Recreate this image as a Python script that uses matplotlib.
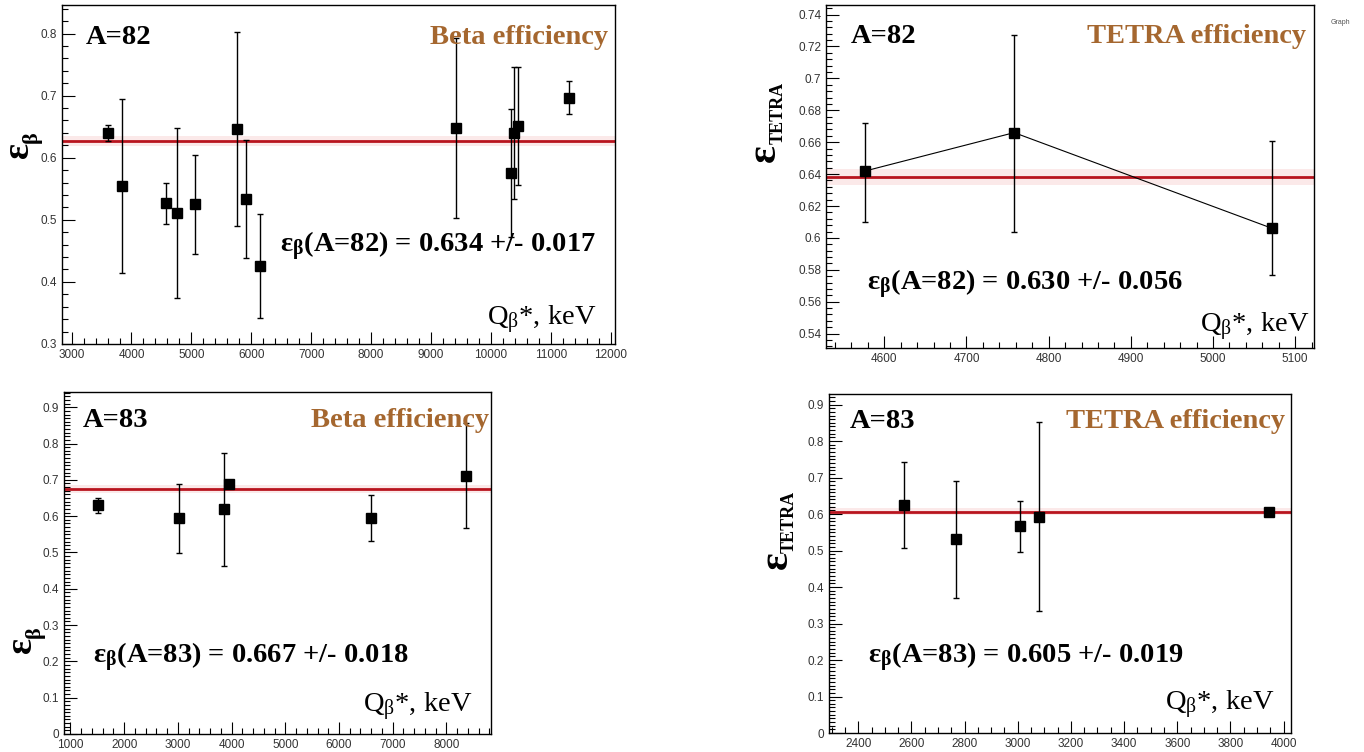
import numpy as np
import matplotlib
matplotlib.use('Agg')
import matplotlib.pyplot as plt
from matplotlib.ticker import MultipleLocator, AutoMinorLocator

plt.rcParams['mathtext.fontset'] = 'custom'
plt.rcParams['mathtext.rm'] = 'Liberation Serif'
plt.rcParams['mathtext.it'] = 'Liberation Serif'
plt.rcParams['mathtext.bf'] = 'Liberation Serif:bold'

# ---- data ----
# A=82, beta efficiency
q82_beta = [3600, 3838, 4578, 4756, 5066, 5766, 5904, 6142, 9409, 10340, 10386, 10459, 11310]
eff82_beta = [0.640, 0.555, 0.527, 0.511, 0.525, 0.646, 0.533, 0.426, 0.648, 0.575, 0.640, 0.651, 0.697]
err82_beta = [0.013, 0.140, 0.033, 0.137, 0.080, 0.156, 0.095, 0.084, 0.145, 0.103, 0.106, 0.095, 0.027]
fit82_beta = 0.627

# A=82, TETRA efficiency
q82_tetra = [4577, 4758, 5072]
eff82_tetra = [0.642, 0.666, 0.606]
errlo82_tetra = [0.032, 0.062, 0.029]
errhi82_tetra = [0.030, 0.061, 0.055]
fit82_tetra = 0.638

# A=83, beta efficiency
q83_beta = [1516, 3025, 3857, 3950, 6602, 8366]
eff83_beta = [0.630, 0.594, 0.619, 0.688, 0.594, 0.712]
err83_beta = [0.020, 0.095, 0.155, 0.010, 0.063, 0.144]
fit83_beta = 0.675

# A=83, TETRA efficiency
q83_tetra = [2574, 2766, 3008, 3079, 3944]
eff83_tetra = [0.625, 0.531, 0.567, 0.592, 0.607]
err83_tetra = [0.118, 0.160, 0.070, 0.259, 0.010]
fit83_tetra = 0.607

BROWN = '#a5672f'
RED = '#b8141e'
BAND = '#fbe9e9'
W, H = 1364.0, 752.0
FS = 20.5


def px_axes(fig, l, r, t, b):
    return fig.add_axes([l / W, 1 - b / H, (r - l) / W, (b - t) / H])


def style(ax, xlim, ylim, xmaj, xminor, ymaj, yminor):
    ax.set_xlim(*xlim)
    ax.set_ylim(*ylim)
    ax.xaxis.set_major_locator(MultipleLocator(xmaj))
    ax.xaxis.set_minor_locator(AutoMinorLocator(xminor))
    ax.yaxis.set_major_locator(MultipleLocator(ymaj))
    ax.yaxis.set_minor_locator(AutoMinorLocator(yminor))
    ax.yaxis.set_major_formatter(plt.FuncFormatter(lambda v, p: '%g' % round(v, 4)))
    ax.tick_params(which='both', direction='in', top=False, right=False,
                   labelsize=8.5, labelcolor='#333333', width=0.8)
    ax.tick_params(which='major', length=9)
    ax.tick_params(which='minor', length=4.5)
    for lab in ax.get_xticklabels() + ax.get_yticklabels():
        lab.set_family('Liberation Sans')
    for s in ax.spines.values():
        s.set_linewidth(1.0)


def texts(ax, a_lab, eff_lab, eq, pos):
    ax.text(pos[0], pos[1], a_lab, transform=ax.transAxes, ha='left', va='center',
            family='Liberation Serif', weight='bold', fontsize=FS)
    ax.text(pos[2], pos[1], eff_lab, transform=ax.transAxes, ha='right', va='center',
            family='Liberation Serif', weight='bold', fontsize=FS, color=BROWN)
    ax.text(pos[3], pos[4], eq, transform=ax.transAxes, ha='left', va='center',
            family='Liberation Serif', weight='bold', fontsize=FS)
    ax.text(pos[5], pos[6], r'Q$_\mathrm{β}$*, keV', transform=ax.transAxes,
            ha='right', va='center', family='Liberation Serif', fontsize=FS)


def ylabel(fig, sub, eps_xy, sub_xy, eps_fs, sub_fs):
    kw = dict(rotation=90, rotation_mode='anchor', ha='left', va='baseline',
              family='Liberation Serif', weight='bold')
    fig.text(eps_xy[0] / W, 1 - eps_xy[1] / H, 'ε', fontsize=eps_fs, **kw)
    fig.text(sub_xy[0] / W, 1 - sub_xy[1] / H, sub, fontsize=sub_fs, **kw)


fig = plt.figure(figsize=(13.64, 7.52), dpi=100)

# top left
ax1 = px_axes(fig, 62, 615, 5, 344)
ax1.axhspan(fit82_beta - 0.008, fit82_beta + 0.008, color=BAND, lw=0)
ax1.axhline(fit82_beta, color=RED, lw=2)
ax1.errorbar(q82_beta, eff82_beta, yerr=err82_beta, fmt='s', color='black',
             ms=7, elinewidth=1, capsize=2.5, capthick=1)
style(ax1, (2840, 12070), (0.3, 0.846), 1000, 5, 0.1, 5)
texts(ax1, 'A=82', 'Beta efficiency', r'ε$_\mathbf{β}$(A=82) = 0.634 +/- 0.017',
      (0.043, 0.905, 0.987, 0.395, 0.29, 0.967, 0.072))

# top right
ax2 = px_axes(fig, 826, 1314, 5, 348)
ax2.axhspan(fit82_tetra - 0.005, fit82_tetra + 0.005, color=BAND, lw=0)
ax2.axhline(fit82_tetra, color=RED, lw=2)
ax2.errorbar(q82_tetra, eff82_tetra, yerr=[errlo82_tetra, errhi82_tetra], fmt='-s',
             color='black', lw=0.8, ms=7, elinewidth=1, capsize=2.5, capthick=1)
style(ax2, (4529, 5123), (0.531, 0.746), 100, 5, 0.02, 5)
texts(ax2, 'A=82', 'TETRA efficiency', r'ε$_\mathbf{β}$(A=82) = 0.630 +/- 0.056',
      (0.05, 0.907, 0.984, 0.084, 0.187, 0.99, 0.062))

# bottom left
ax3 = px_axes(fig, 64, 491, 392, 734)
ax3.axhspan(fit83_beta - 0.012, fit83_beta + 0.012, color=BAND, lw=0)
ax3.axhline(fit83_beta, color=RED, lw=2)
ax3.errorbar(q83_beta, eff83_beta, yerr=err83_beta, fmt='s', color='black',
             ms=7, elinewidth=1, capsize=2.5, capthick=1)
style(ax3, (880, 8830), (0.0, 0.942), 1000, 5, 0.1, 10)
texts(ax3, 'A=83', 'Beta efficiency', r'ε$_\mathbf{β}$(A=83) = 0.667 +/- 0.018',
      (0.045, 0.918, 0.995, 0.068, 0.224, 0.955, 0.08))

# bottom right
ax4 = px_axes(fig, 829, 1291, 394, 733)
ax4.axhspan(fit83_tetra - 0.01, fit83_tetra + 0.01, color=BAND, lw=0)
ax4.axhline(fit83_tetra, color=RED, lw=2)
ax4.errorbar(q83_tetra, eff83_tetra, yerr=err83_tetra, fmt='s', color='black',
             ms=7, elinewidth=1, capsize=2.5, capthick=1)
style(ax4, (2290, 4028), (0.0, 0.929), 200, 4, 0.1, 10)
texts(ax4, 'A=83', 'TETRA efficiency', r'ε$_\mathbf{β}$(A=83) = 0.605 +/- 0.019',
      (0.045, 0.92, 0.987, 0.085, 0.224, 0.963, 0.083))

# y labels: big epsilon with a small subscript
ylabel(fig, 'β', (28, 158), (37, 143), 27, 16)
ylabel(fig, 'TETRA', (775, 162), (783, 144), 30, 13)
ylabel(fig, 'β', (31, 653), (40, 638), 27, 16)
ylabel(fig, 'TETRA', (787, 569), (794, 553), 30, 13)

fig.text(1340 / W, 1 - 24 / H, 'Graph', fontsize=5, color='#555555',
         family='Liberation Sans', ha='center')

fig.savefig('out.png', dpi=100)
